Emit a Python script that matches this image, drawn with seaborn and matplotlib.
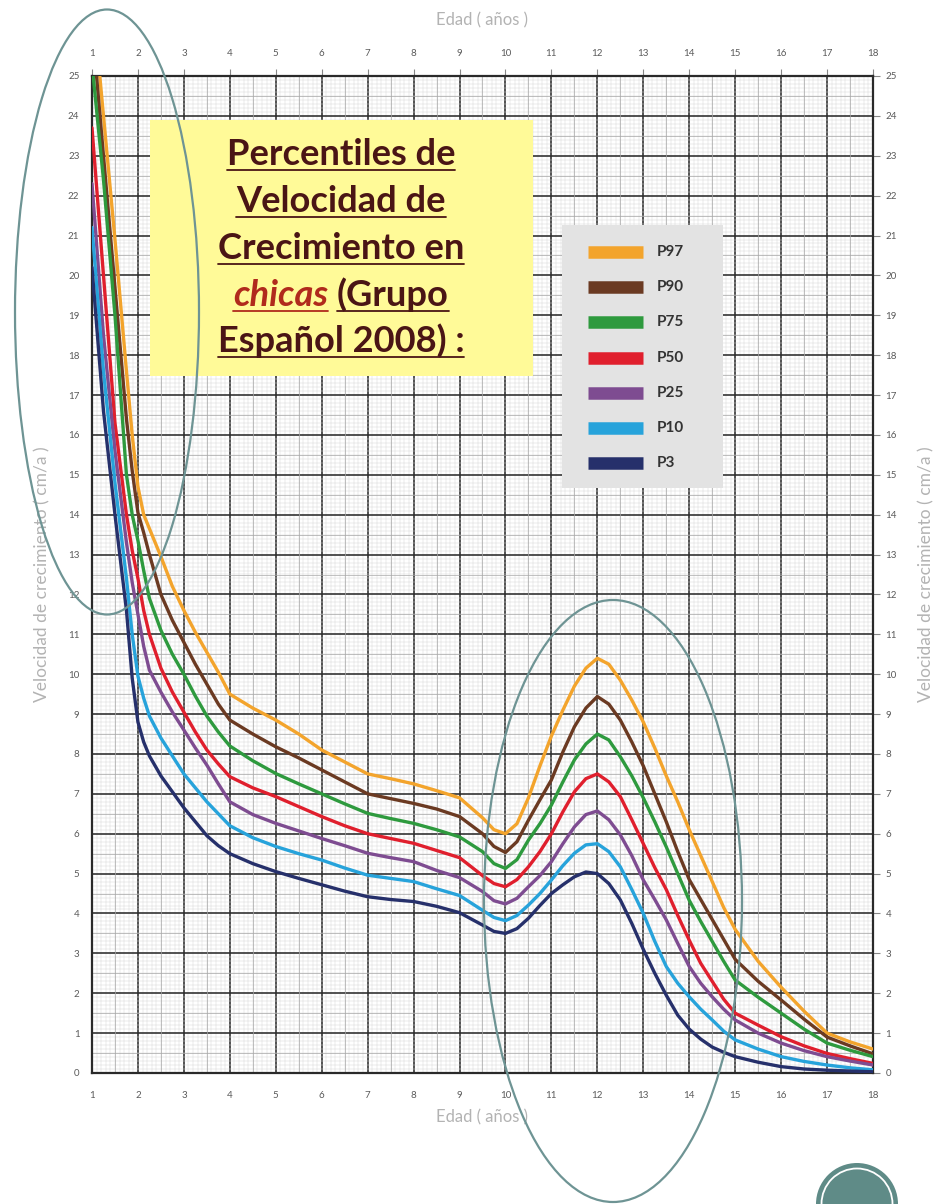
import numpy as np
import pandas as pd
import matplotlib
matplotlib.use("Agg")
import matplotlib.pyplot as plt
import seaborn as sns
from matplotlib.patches import Rectangle, Ellipse, Circle
from matplotlib.lines import Line2D
from matplotlib.ticker import MultipleLocator

# ---------------- data ----------------
edad = [1, 1.25, 1.5, 1.75, 1.875, 2, 2.125, 2.25, 2.5, 2.75, 3, 3.25, 3.5, 3.75, 4,
        4.5, 5, 5.5, 6, 6.5, 7, 7.5, 8, 8.5, 9, 9.5, 9.75, 10, 10.25, 10.5,
        10.75, 11, 11.25, 11.5, 11.75, 12, 12.25, 12.5, 12.75, 13, 13.25, 13.5, 13.75, 14, 14.25,
        14.5, 14.75, 15, 15.5, 16, 16.5, 17, 17.5, 18]

p97 = [27.1, 24.0, 20.9, 17.6, 16.0, 14.7, 14.0, 13.65, 12.95, 12.2, 11.6, 11.05, 10.55, 10.05, 9.5,
       9.15, 8.85, 8.5, 8.1, 7.8, 7.5, 7.38, 7.25, 7.08, 6.9, 6.4, 6.1, 6.0, 6.25, 6.9,
       7.7, 8.45, 9.1, 9.7, 10.15, 10.4, 10.25, 9.85, 9.35, 8.8, 8.15, 7.45, 6.8, 6.1, 5.45,
       4.8, 4.15, 3.6, 2.8, 2.15, 1.55, 1.0, 0.78, 0.6]
p90 = [26.3, 23.0, 19.7, 16.4, 15.1, 14.05, 13.55, 13.0, 12.0, 11.35, 10.8, 10.25, 9.75, 9.25, 8.85,
       8.5, 8.18, 7.9, 7.6, 7.3, 7.0, 6.88, 6.76, 6.62, 6.43, 6.0, 5.68, 5.53, 5.8, 6.34,
       6.85, 7.35, 8.05, 8.68, 9.15, 9.44, 9.25, 8.85, 8.3, 7.7, 7.0, 6.3, 5.55, 4.85, 4.35,
       3.85, 3.35, 2.85, 2.3, 1.83, 1.35, 0.9, 0.68, 0.48]
p75 = [25.3, 22.4, 19.0, 15.0, 14.0, 13.35, 12.6, 11.9, 11.1, 10.5, 10.0, 9.45, 8.95, 8.55, 8.2,
       7.83, 7.51, 7.25, 7.0, 6.75, 6.51, 6.38, 6.26, 6.1, 5.92, 5.55, 5.25, 5.13, 5.35, 5.84,
       6.25, 6.72, 7.3, 7.85, 8.25, 8.5, 8.35, 7.93, 7.45, 6.9, 6.3, 5.67, 5.0, 4.33, 3.8,
       3.3, 2.8, 2.33, 1.9, 1.5, 1.1, 0.75, 0.57, 0.41]
p50 = [23.7, 20.0, 16.3, 14.0, 13.1, 12.4, 11.6, 11.0, 10.15, 9.55, 9.05, 8.55, 8.1, 7.75, 7.43,
       7.15, 6.93, 6.68, 6.43, 6.2, 6.0, 5.88, 5.76, 5.58, 5.4, 4.95, 4.75, 4.67, 4.85, 5.17,
       5.55, 6.0, 6.55, 7.05, 7.38, 7.5, 7.3, 6.93, 6.35, 5.75, 5.15, 4.6, 3.95, 3.33, 2.75,
       2.3, 1.85, 1.5, 1.2, 0.91, 0.68, 0.49, 0.36, 0.24]
p25 = [22.3, 18.5, 15.6, 13.3, 12.3, 11.5, 10.7, 10.1, 9.55, 9.05, 8.6, 8.15, 7.72, 7.25, 6.8,
       6.48, 6.26, 6.07, 5.88, 5.7, 5.51, 5.4, 5.3, 5.08, 4.9, 4.55, 4.32, 4.24, 4.38, 4.67,
       4.95, 5.3, 5.75, 6.17, 6.48, 6.57, 6.35, 5.97, 5.45, 4.84, 4.35, 3.84, 3.25, 2.67, 2.25,
       1.91, 1.6, 1.33, 1.0, 0.75, 0.56, 0.41, 0.3, 0.2]
p10 = [21.2, 17.6, 14.8, 12.4, 11.0, 9.95, 9.4, 8.95, 8.4, 7.95, 7.5, 7.15, 6.8, 6.5, 6.2,
       5.9, 5.68, 5.5, 5.34, 5.14, 4.96, 4.88, 4.8, 4.62, 4.45, 4.08, 3.9, 3.82, 3.95, 4.21,
       4.5, 4.84, 5.2, 5.51, 5.72, 5.75, 5.55, 5.17, 4.6, 4.0, 3.3, 2.67, 2.25, 1.91, 1.6,
       1.33, 1.05, 0.83, 0.6, 0.41, 0.29, 0.2, 0.13, 0.08]
p3 = [20.2, 16.6, 14.0, 11.6, 9.9, 8.8, 8.3, 7.95, 7.45, 7.05, 6.65, 6.3, 5.95, 5.7, 5.5,
      5.25, 5.05, 4.88, 4.72, 4.56, 4.42, 4.35, 4.3, 4.18, 4.02, 3.71, 3.55, 3.5, 3.62, 3.88,
      4.2, 4.5, 4.72, 4.92, 5.04, 5.0, 4.75, 4.34, 3.75, 3.1, 2.5, 1.95, 1.45, 1.1, 0.85,
      0.65, 0.52, 0.41, 0.27, 0.16, 0.1, 0.07, 0.05, 0.03]

percentiles = ["P97", "P90", "P75", "P50", "P25", "P10", "P3"]
series = [p97, p90, p75, p50, p25, p10, p3]
colores = ["#F3A42C", "#6B3A22", "#2E9A3E", "#E01F2D", "#7E4C91", "#27A3DB", "#26306B"]

x_ticks = list(range(1, 19))
y_ticks = list(range(0, 26))

titulo = ["Percentiles de", "Velocidad de", "Crecimiento en", None, "Español 2008) :"]
titulo_l4 = ("chicas", "(Grupo")
etiqueta_x = "Edad ( años )"
etiqueta_y = "Velocidad de crecimiento ( cm/a )"

# ---------------- figure ----------------
sns.set_style("white")
plt.rcParams["font.family"] = ["Lato", "DejaVu Sans"]

W, H = 941, 1204
fig = plt.figure(figsize=(W / 100, H / 100), dpi=100)
L, R, T, B = 92, 873, 76, 1073
ax = fig.add_axes([L / W, 1 - B / H, (R - L) / W, (B - T) / H])

df = pd.DataFrame({
    "edad": np.tile(edad, len(percentiles)),
    "vel": np.concatenate(series),
    "percentil": np.repeat(percentiles, len(edad)),
})
sns.lineplot(data=df, x="edad", y="vel", hue="percentil", hue_order=percentiles,
             palette=dict(zip(percentiles, colores)), linewidth=2.4,
             legend=False, ax=ax, estimator=None, zorder=3,
             solid_joinstyle="round", solid_capstyle="round")

ax.set_xlim(1, 18)
ax.set_ylim(0, 25)
ax.set_xticks(x_ticks)
ax.set_yticks(y_ticks)
ax.set_xlabel("")
ax.set_ylabel("")
ax.xaxis.set_minor_locator(MultipleLocator(0.1))
ax.yaxis.set_minor_locator(MultipleLocator(0.1))
ax.set_axisbelow(True)
ax.grid(which="minor", color="#d8d8d8", linewidth=0.35)
ax.grid(which="major", color="#2b2b2b", linewidth=1.15)
for v in np.arange(0.5, 25, 1):
    ax.axhline(v, color="#a8a8a8", linewidth=0.5, zorder=0.8)
for v in np.arange(1.5, 18, 1):
    ax.axvline(v, color="#a8a8a8", linewidth=0.5, zorder=0.8)

ax.tick_params(which="minor", length=0)
ax.tick_params(which="major", direction="out", length=5, width=0.8, color="#888888",
               labelsize=7, labelcolor="#5a5a5a", top=True, right=True,
               labeltop=True, labelright=True)
ax.tick_params(axis="x", pad=8)
ax.tick_params(axis="y", pad=4)
for s in ax.spines.values():
    s.set_color("#2a2a2a")
    s.set_linewidth(1.6)

# boxes (inside the axes, above the grid, below the curves)
def px_rect(x0, y0, x1, y1, **kw):
    return Rectangle((x0 / W, 1 - y1 / H), (x1 - x0) / W, (y1 - y0) / H,
                     transform=fig.transFigure, clip_on=False, **kw)

ax.add_patch(px_rect(150, 120, 533, 376, facecolor="#FFFA98", edgecolor="none", zorder=1))
ax.add_patch(px_rect(562, 225, 723, 488, facecolor="#E3E3E3", edgecolor="none", zorder=1))

# legend content
for i, (p, c) in enumerate(zip(percentiles, colores)):
    yy = 1 - (252 + i * 35.2) / H
    fig.add_artist(Line2D([588 / W, 643 / W], [yy, yy], transform=fig.transFigure,
                          color=c, linewidth=9, solid_capstyle="butt", zorder=2))
    fig.text(657 / W, yy, p, fontsize=11, fontweight="bold", color="#333333",
             va="center", ha="left", zorder=3)

# title block
renderer = fig.canvas.get_renderer()
probe = fig.text(0, 0, titulo[0], fontsize=20, fontweight="bold")
fs = 20 * 229 / probe.get_window_extent(renderer).width
probe.remove()

dark = "#4A1515"
red = "#B02A1C"
cx = 341
baselines = [165, 212, 259, 306, 352]

def underline(x0, x1, base, color):
    yy = 1 - (base + 5) / H
    fig.add_artist(Line2D([x0 / W, x1 / W], [yy, yy], transform=fig.transFigure,
                          color=color, linewidth=1.3, zorder=3))

for txt, base in zip(titulo, baselines):
    if txt is None:
        continue
    t = fig.text(cx / W, 1 - base / H, txt, fontsize=fs, fontweight="bold",
                 color=dark, ha="center", va="baseline", zorder=3)
    bb = t.get_window_extent(renderer)
    underline(bb.x0, bb.x1, base, dark)

# line 4: italic red "chicas" + "(Grupo"
base = baselines[3]
t1 = fig.text(0, 0, titulo_l4[0], fontsize=fs, fontweight="bold", style="italic")
t2 = fig.text(0, 0, titulo_l4[1], fontsize=fs, fontweight="bold")
sp = fig.text(0, 0, "a a", fontsize=fs, fontweight="bold")
sp2 = fig.text(0, 0, "aa", fontsize=fs, fontweight="bold")
w1 = t1.get_window_extent(renderer).width
w2 = t2.get_window_extent(renderer).width
wsp = sp.get_window_extent(renderer).width - sp2.get_window_extent(renderer).width
for tt in (t1, t2, sp, sp2):
    tt.remove()
x0 = cx - (w1 + wsp + w2) / 2
fig.text(x0 / W, 1 - base / H, titulo_l4[0], fontsize=fs, fontweight="bold",
         style="italic", color=red, ha="left", va="baseline", zorder=3)
fig.text((x0 + w1 + wsp) / W, 1 - base / H, titulo_l4[1], fontsize=fs, fontweight="bold",
         color=dark, ha="left", va="baseline", zorder=3)
underline(x0, x0 + w1, base, red)
underline(x0 + w1 + wsp, x0 + w1 + wsp + w2, base, dark)

# axis titles
lab_col = "#b3b3b3"
fig.text(482 / W, 1 - 20 / H, etiqueta_x, fontsize=12, color=lab_col, ha="center", va="center")
fig.text(482 / W, 1 - 1117 / H, etiqueta_x, fontsize=12, color=lab_col, ha="center", va="center")
fig.text(42 / W, 1 - 574 / H, etiqueta_y, fontsize=12.5, color=lab_col, rotation=90,
         ha="center", va="center")
fig.text(926 / W, 1 - 574 / H, etiqueta_y, fontsize=12.5, color=lab_col, rotation=90,
         ha="center", va="center")

# decorative ellipses and corner circle (pixel geometry -> inches)
ell_col = "#6E9494"
def px_ellipse(cxp, cyp, wp, hp):
    return Ellipse((cxp / 100, (H - cyp) / 100), wp / 100, hp / 100,
                   transform=fig.dpi_scale_trans, fill=False, edgecolor=ell_col,
                   linewidth=1.6, zorder=5)

fig.add_artist(px_ellipse(107, 312, 184, 605))
fig.add_artist(px_ellipse(613, 901, 258, 602))
fig.add_artist(Circle((857 / 100, 0.0), 0.41, transform=fig.dpi_scale_trans,
                      facecolor="#5F8B87", edgecolor="none", zorder=5))
fig.add_artist(Circle((857 / 100, 0.0), 0.355, transform=fig.dpi_scale_trans,
                      facecolor="none", edgecolor="white", linewidth=1.3, zorder=6))

fig.savefig("out.png", dpi=100, facecolor="white")
